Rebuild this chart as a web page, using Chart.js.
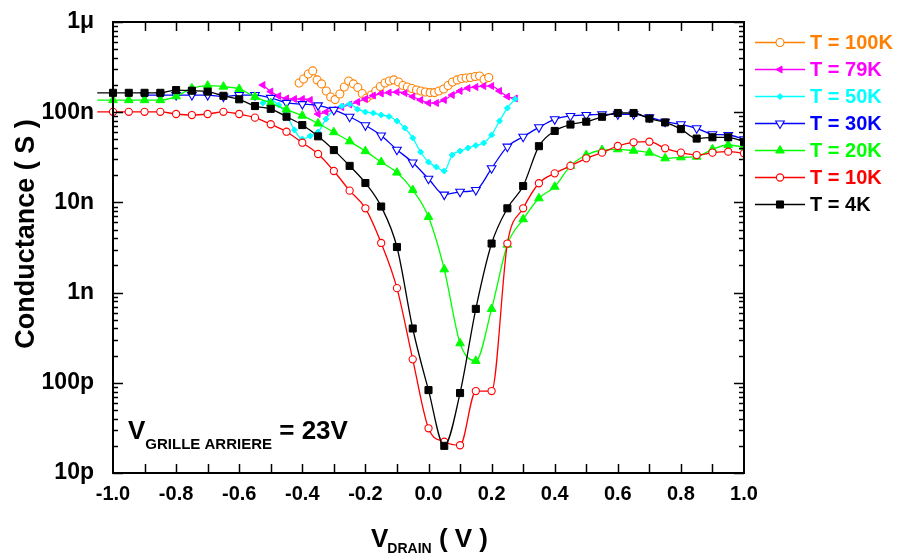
<!DOCTYPE html>
<html><head><meta charset="utf-8">
<script src="https://cdn.jsdelivr.net/npm/chart.js@4/dist/chart.umd.min.js"></script>
<style>html,body{margin:0;padding:0;background:#fff;}#wrap{position:relative;width:899px;height:555px;}</style>
</head><body><div id="wrap"><canvas id="c" width="899" height="555"></canvas></div>
<script>
// ---------- DATA (conductance in nS, V_drain in V) ----------
const xMain = [-1.05,-1.00,-0.95,-0.90,-0.85,-0.80,-0.75,-0.70,-0.65,-0.60,-0.55,-0.50,-0.45,-0.40,-0.35,-0.30,-0.25,-0.20,-0.15,-0.10,-0.05,0.00,0.05,0.10,0.15,0.20,0.25,0.30,0.35,0.40,0.45,0.50,0.55,0.60,0.65,0.70,0.75,0.80,0.85,0.90,0.95,1.00];
const g4K  = [164,164,164,164,164,176,173,169,152,139,117,109,89,72,54,38,25.4,16.4,9.0,3.2,0.40,0.083,0.020,0.077,0.66,3.5,8.6,15.2,42,62,73,78.5,89,98,98,85,77,65,51,52.7,52.7,47];
const g10K = [101,101,101,101,101,95.5,93,95.5,101,95.5,87,73.5,60.8,45.9,34.4,22.3,13.5,8.6,3.55,1.12,0.182,0.0313,0.0222,0.0203,0.081,0.081,3.5,8.6,16.3,21,25.4,30.8,35.6,42.2,46.4,47.1,39.8,35.6,33.5,35.6,36.5,35];
const g20K = [136,136,136,136,136,150,184,197,192,181,148,126,107,91.5,75,60,47.5,37,28,21.4,13.7,6.9,1.81,0.274,0.175,0.66,3.4,6.5,11.1,14.9,25.4,33.5,38.1,38.8,37.4,35.6,30.8,31.6,32.1,38.8,43.3,41];
const x30K = [-0.90,-0.85,-0.80,-0.75,-0.70,-0.65,-0.60,-0.55,-0.50,-0.45,-0.40,-0.35,-0.30,-0.25,-0.20,-0.15,-0.10,-0.05,0.00,0.05,0.10,0.15,0.20,0.25,0.30,0.35,0.40,0.45,0.50,0.55,0.60,0.65,0.70,0.75,0.80,0.85,0.90,0.95,1.00];
const g30K = [155,155,155,155,155,149,155,155,144,127,123,119,106,89,71.6,55.2,38.4,27.7,18.3,12.2,13.1,13.7,23.9,41.5,53.5,68,83.4,90.8,93.1,94.8,94.8,94.8,87.8,78.5,73.4,66.3,56.9,55.9,50.1];
const xHigh = [-0.525,-0.500,-0.475,-0.450,-0.425,-0.400,-0.375,-0.350,-0.325,-0.300,-0.275,-0.250,-0.225,-0.200,-0.175,-0.150,-0.125,-0.100,-0.075,-0.050,-0.025,0.000,0.025,0.050,0.075,0.100,0.125,0.150,0.175,0.200,0.225,0.250,0.275];
const g50K = [126.5,136.5,120,93,63.5,50.5,54.5,60.3,84,106,117,123,108,100.5,98,93,89.6,79.8,66.8,51.8,36.2,28,24.7,22.3,33.5,37.1,40.1,42.8,45.6,55.9,79.8,111,140];
const g79K = [200,169.6,151,142,140,140,136.5,95.5,100.5,106,114,121.7,129.7,140,153,161,165,167.5,163,149,136.5,126.5,126.5,136.5,155,172,185,190,195,195,172,149,142];
const x100K = [-0.410,-0.396,-0.381,-0.367,-0.353,-0.339,-0.324,-0.310,-0.296,-0.281,-0.267,-0.253,-0.238,-0.224,-0.210,-0.196,-0.181,-0.167,-0.153,-0.138,-0.124,-0.110,-0.095,-0.081,-0.067,-0.053,-0.038,-0.024,-0.010,0.005,0.019,0.033,0.048,0.062,0.076,0.091,0.105,0.119,0.133,0.148,0.162,0.176,0.191];
const g100K = [211,233,265,287,228,206,172,147.5,138,159,190,222,206,188,161,143.6,155,172,193,211,222,228,216,198,190,183,176,172,167.5,165,165,172,181,198,216,228,236.6,239.5,242.7,249,252,230.6,242.7];

const seriesLabels = ['T = 100K','T = 79K','T = 50K','T = 30K','T = 20K','T = 10K','T = 4K'];
const xTicks = [-1.0,-0.8,-0.6,-0.4,-0.2,0.0,0.2,0.4,0.6,0.8,1.0];
const xTickLabels = ['-1.0','-0.8','-0.6','-0.4','-0.2','0.0','0.2','0.4','0.6','0.8','1.0'];
const xTickMarks = [-0.9,-0.8,-0.7,-0.6,-0.5,-0.4,-0.3,-0.2,-0.1,0.0,0.1,0.2,0.3,0.4,0.5,0.6,0.7,0.8,0.9];
const yTicks = [0.01,0.1,1,10,100,1000];
const yTickLabels = ['10p','100p','1n','10n','100n','1\u03bc'];
const xTitleMain = 'V', xTitleSub = 'DRAIN', xTitleTail = ' ( V )';
const yTitle = 'Conductance ( S )';
const noteMain = 'V', noteSub = 'GRILLE ARRIERE', noteTail = ' = 23V';

// ---------- STYLES ----------
const FONT = "'Liberation Sans', Arial, sans-serif";
const styles = [
  {color:'#FF8000', pointStyle:'circle',   radius:4,   rotation:0,   fill:false, bw:1.1},
  {color:'#FF00FF', pointStyle:'triangle', radius:4,   rotation:-90, fill:true,  bw:1},
  {color:'#00FFFF', pointStyle:'rectRot',  radius:3,   rotation:0,   fill:true,  bw:1},
  {color:'#0000FF', pointStyle:'triangle', radius:5,   rotation:180, fill:false, bw:1.1},
  {color:'#00FF00', pointStyle:'triangle', radius:5,   rotation:0,   fill:true,  bw:1},
  {color:'#FF0000', pointStyle:'circle',   radius:3.6, rotation:0,   fill:false, bw:1.1},
  {color:'#000000', pointStyle:'rect',     radius:5,   rotation:0,   fill:true,  bw:1}
];
const seriesX = [x100K, xHigh, xHigh, x30K, xMain, xMain, xMain];
const seriesY = [g100K, g79K, g50K, g30K, g20K, g10K, g4K];

const datasets = seriesY.map((ys, i) => {
  const s = styles[i];
  return {
    label: seriesLabels[i],
    data: seriesX[i].map((x, j) => ({x: x, y: ys[j]})),
    borderColor: s.color,
    backgroundColor: s.color,
    borderWidth: 1.3,
    pointStyle: s.pointStyle,
    pointRotation: s.rotation,
    pointRadius: s.radius,
    pointBorderWidth: s.bw,
    pointBorderColor: s.color,
    pointBackgroundColor: s.fill ? s.color : '#FFFFFF',
    cubicInterpolationMode: 'monotone',
    clip: {left: 22, top: 0, right: 0, bottom: 0},
    order: 6 - i
  };
});

function line(ctx, x1, y1, x2, y2){ ctx.beginPath(); ctx.moveTo(x1,y1); ctx.lineTo(x2,y2); ctx.stroke(); }

const framePlugin = {
  id: 'frame',
  afterDatasetsDraw(chart){
    const {ctx, chartArea: a, scales: {x, y}} = chart;
    ctx.save();
    ctx.strokeStyle = '#000';
    ctx.lineWidth = 1.5;
    xTickMarks.forEach(v => {
      const px = Math.round(x.getPixelForValue(v)) + 0.5;
      line(ctx, px, a.bottom, px, a.bottom - 9);
      line(ctx, px, a.top, px, a.top + 9);
    });
    for (let d = 0.01; d < 1500; d *= 10) {
      for (let m = 1; m <= 9; m++) {
        const v = d * m;
        if (v > 1000 * 1.0001) break;
        const py = Math.round(y.getPixelForValue(v)) + 0.5;
        const len = m === 1 ? 10 : 5;
        line(ctx, a.left, py, a.left + len, py);
        line(ctx, a.right, py, a.right - len, py);
      }
    }
    ctx.lineWidth = 2;
    ctx.strokeRect(a.left, a.top, a.right - a.left, a.bottom - a.top);
    ctx.restore();
  },
  afterDraw(chart){
    const {ctx, chartArea: a} = chart;
    ctx.save();
    ctx.fillStyle = '#000';
    ctx.textBaseline = 'alphabetic';
    // annotation
    ctx.textAlign = 'left';
    let px = 128;
    ctx.font = 'bold 26px ' + FONT; ctx.fillText(noteMain, px, 439); px += ctx.measureText(noteMain).width;
    ctx.font = 'bold 15px ' + FONT; ctx.fillText(noteSub, px, 449); px += ctx.measureText(noteSub).width;
    ctx.font = 'bold 26px ' + FONT; ctx.fillText(noteTail, px, 439);
    // x title
    let tx = 371;
    ctx.font = 'bold 26px ' + FONT; ctx.fillText(xTitleMain, tx, 547); tx += ctx.measureText(xTitleMain).width;
    ctx.font = 'bold 14px ' + FONT; ctx.fillText(xTitleSub, tx - 1, 553); tx += ctx.measureText(xTitleSub).width - 1;
    ctx.font = 'bold 26px ' + FONT; ctx.fillText(xTitleTail, tx, 547);
    // y title
    ctx.save();
    ctx.translate(27, 234);
    ctx.rotate(-Math.PI / 2);
    ctx.textAlign = 'center'; ctx.textBaseline = 'middle';
    ctx.font = 'bold 27px ' + FONT;
    ctx.fillText(yTitle, 0, 0);
    ctx.restore();
    // legend
    const lx0 = 755, lx1 = 805, ly0 = 42, dy = 27;
    seriesLabels.forEach((lab, i) => {
      const s = styles[i];
      const ly = ly0 + i * dy;
      ctx.strokeStyle = s.color; ctx.lineWidth = 1.3;
      line(ctx, lx0, ly + 0.5, lx1, ly + 0.5);
      ctx.fillStyle = s.fill ? s.color : '#FFFFFF';
      ctx.strokeStyle = s.color; ctx.lineWidth = s.bw;
      Chart.helpers.drawPoint(ctx, {pointStyle: s.pointStyle, rotation: s.rotation, radius: s.radius, borderWidth: s.bw}, (lx0 + lx1) / 2, ly + 0.5);
      ctx.fillStyle = s.color;
      ctx.font = 'bold 20px ' + FONT;
      ctx.textAlign = 'left'; ctx.textBaseline = 'middle';
      ctx.fillText(lab, 810, ly + 1);
    });
    ctx.restore();
  }
};

new Chart(document.getElementById('c'), {
  type: 'line',
  data: { datasets },
  options: {
    responsive: false, animation: false, devicePixelRatio: 1,
    layout: { padding: { left: 0, right: 155, top: 22, bottom: 0 } },
    plugins: { legend: { display: false }, tooltip: { enabled: false } },
    scales: {
      x: {
        type: 'linear', min: -1, max: 1,
        afterBuildTicks: s => { s.ticks = xTicks.map(v => ({value: v})); },
        afterFit: s => { s.height = 82; s.paddingLeft = 0; s.paddingRight = 0; },
        grid: { display: false, drawTicks: false }, border: { display: false },
        ticks: { autoSkip: false, maxRotation: 0, padding: 9, color: '#000',
          font: { family: FONT, size: 20, weight: 'bold' },
          callback: (v, i) => xTickLabels[i] }
      },
      y: {
        type: 'logarithmic', min: 0.01, max: 1000,
        afterBuildTicks: s => { s.ticks = yTicks.map(v => ({value: v})); },
        afterFit: s => { s.width = 113; s.paddingTop = 0; s.paddingBottom = 0; },
        grid: { display: false, drawTicks: false }, border: { display: false },
        ticks: { autoSkip: false, padding: 19, color: '#000',
          font: { family: FONT, size: 23, weight: 'bold' },
          callback: (v, i) => yTickLabels[i] }
      }
    }
  },
  plugins: [framePlugin]
});
</script></body></html>
